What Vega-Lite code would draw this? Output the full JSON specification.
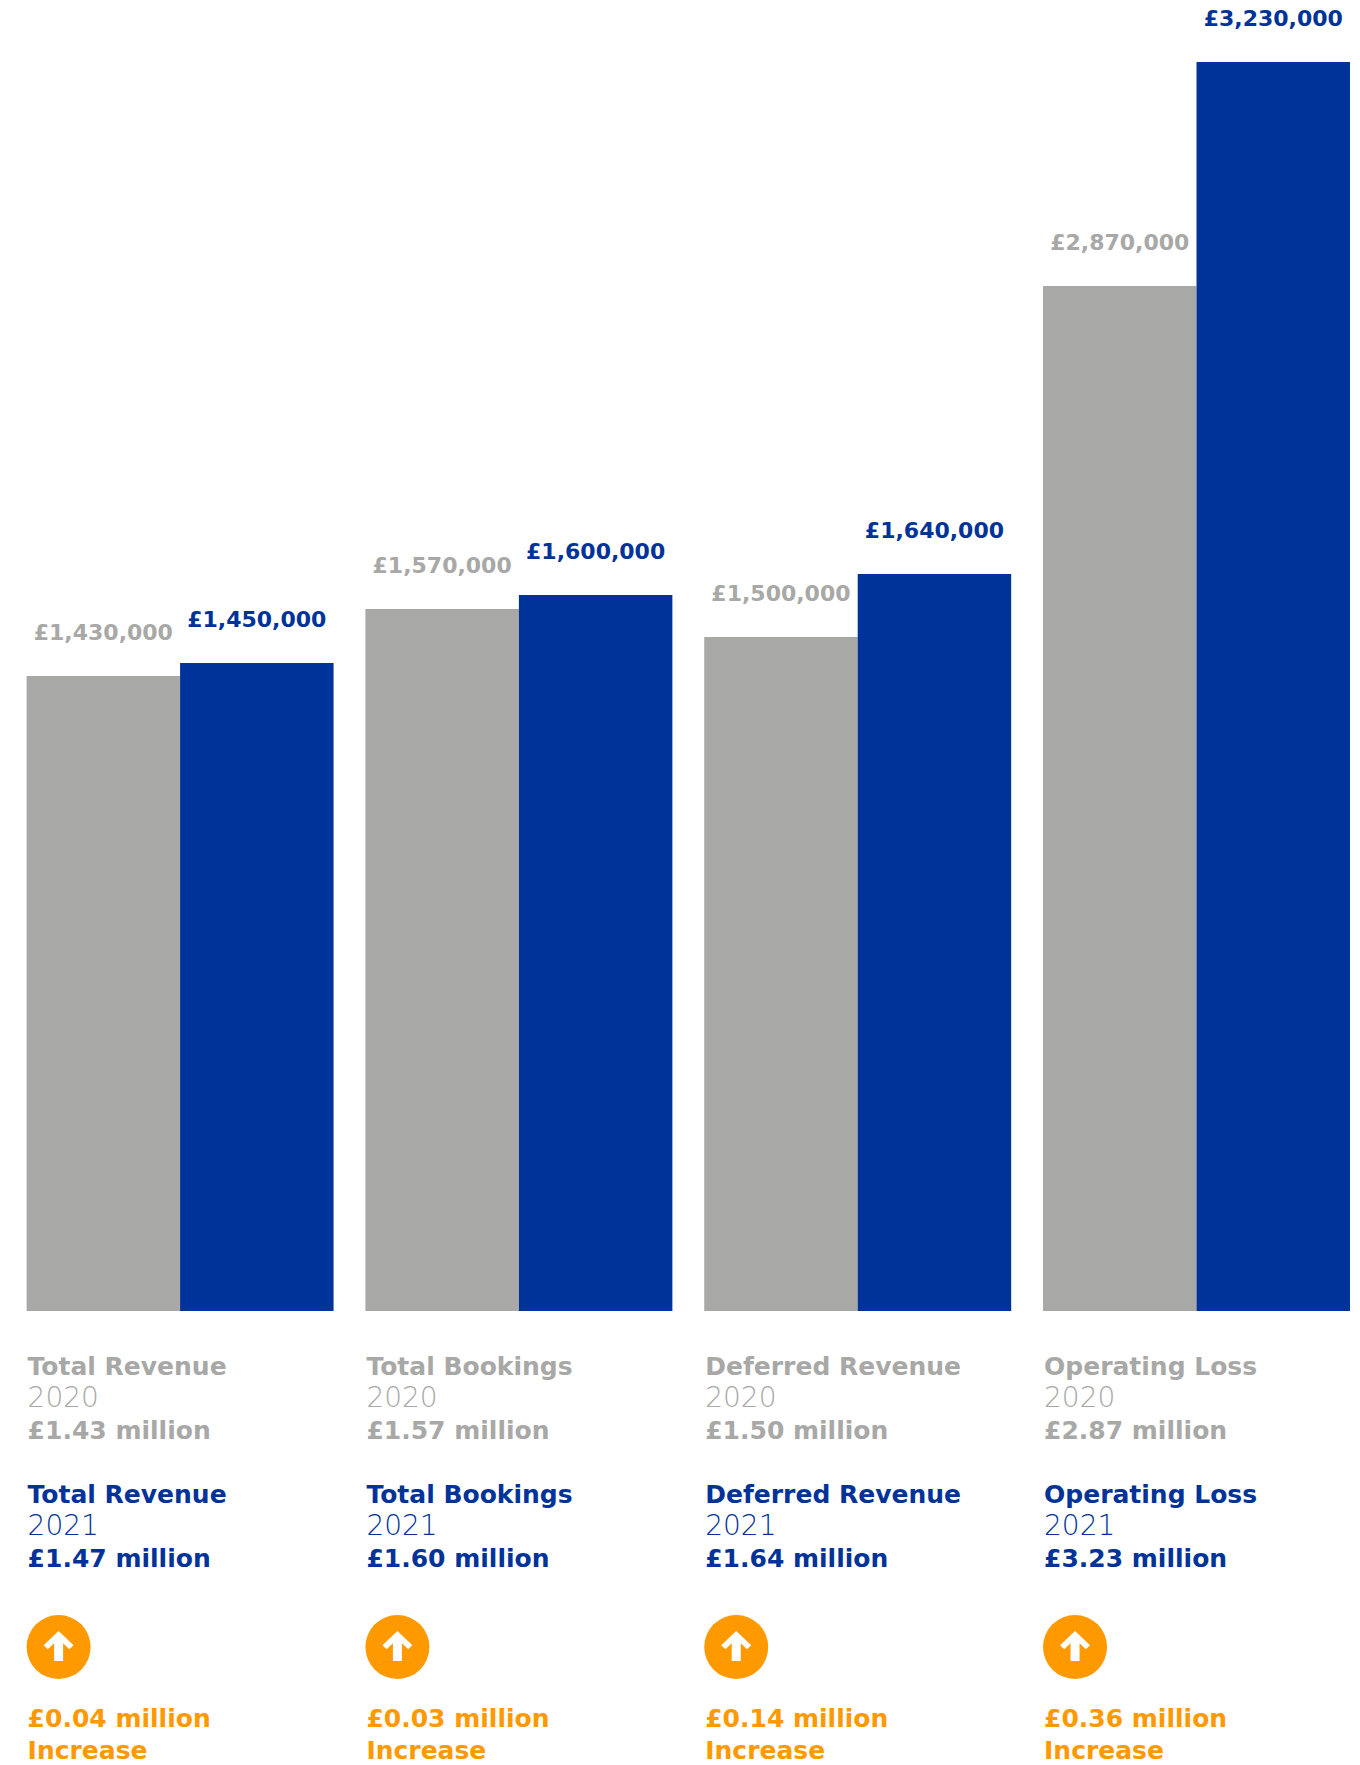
{
"$schema":"https://vega.github.io/schema/vega-lite/v6.json",
"width":1360,"height":1765,"padding":0,
"autosize":{"type":"fit","contains":"padding"},
"background":"#ffffff",
"config":{"view":{"stroke":null},"text":{"font":"DejaVu Sans"}},
"datasets":{
"bars":[
{"metric":"Total Revenue","year":"2020","label":"£1,430,000","barLength":635},
{"metric":"Total Revenue","year":"2021","label":"£1,450,000","barLength":648},
{"metric":"Total Bookings","year":"2020","label":"£1,570,000","barLength":702},
{"metric":"Total Bookings","year":"2021","label":"£1,600,000","barLength":716},
{"metric":"Deferred Revenue","year":"2020","label":"£1,500,000","barLength":674},
{"metric":"Deferred Revenue","year":"2021","label":"£1,640,000","barLength":737},
{"metric":"Operating Loss","year":"2020","label":"£2,870,000","barLength":1025},
{"metric":"Operating Loss","year":"2021","label":"£3,230,000","barLength":1249}],
"lines":[
{"metric":"Total Revenue","row":"name2020","series":"2020","kind":"bold","text":"Total Revenue"},
{"metric":"Total Revenue","row":"year2020","series":"2020","kind":"light","text":"2020"},
{"metric":"Total Revenue","row":"amount2020","series":"2020","kind":"bold","text":"£1.43 million"},
{"metric":"Total Revenue","row":"name2021","series":"2021","kind":"bold","text":"Total Revenue"},
{"metric":"Total Revenue","row":"year2021","series":"2021","kind":"light","text":"2021"},
{"metric":"Total Revenue","row":"amount2021","series":"2021","kind":"bold","text":"£1.47 million"},
{"metric":"Total Revenue","row":"change","series":"change","kind":"bold","text":"£0.04 million"},
{"metric":"Total Revenue","row":"direction","series":"change","kind":"bold","text":"Increase"},
{"metric":"Total Bookings","row":"name2020","series":"2020","kind":"bold","text":"Total Bookings"},
{"metric":"Total Bookings","row":"year2020","series":"2020","kind":"light","text":"2020"},
{"metric":"Total Bookings","row":"amount2020","series":"2020","kind":"bold","text":"£1.57 million"},
{"metric":"Total Bookings","row":"name2021","series":"2021","kind":"bold","text":"Total Bookings"},
{"metric":"Total Bookings","row":"year2021","series":"2021","kind":"light","text":"2021"},
{"metric":"Total Bookings","row":"amount2021","series":"2021","kind":"bold","text":"£1.60 million"},
{"metric":"Total Bookings","row":"change","series":"change","kind":"bold","text":"£0.03 million"},
{"metric":"Total Bookings","row":"direction","series":"change","kind":"bold","text":"Increase"},
{"metric":"Deferred Revenue","row":"name2020","series":"2020","kind":"bold","text":"Deferred Revenue"},
{"metric":"Deferred Revenue","row":"year2020","series":"2020","kind":"light","text":"2020"},
{"metric":"Deferred Revenue","row":"amount2020","series":"2020","kind":"bold","text":"£1.50 million"},
{"metric":"Deferred Revenue","row":"name2021","series":"2021","kind":"bold","text":"Deferred Revenue"},
{"metric":"Deferred Revenue","row":"year2021","series":"2021","kind":"light","text":"2021"},
{"metric":"Deferred Revenue","row":"amount2021","series":"2021","kind":"bold","text":"£1.64 million"},
{"metric":"Deferred Revenue","row":"change","series":"change","kind":"bold","text":"£0.14 million"},
{"metric":"Deferred Revenue","row":"direction","series":"change","kind":"bold","text":"Increase"},
{"metric":"Operating Loss","row":"name2020","series":"2020","kind":"bold","text":"Operating Loss"},
{"metric":"Operating Loss","row":"year2020","series":"2020","kind":"light","text":"2020"},
{"metric":"Operating Loss","row":"amount2020","series":"2020","kind":"bold","text":"£2.87 million"},
{"metric":"Operating Loss","row":"name2021","series":"2021","kind":"bold","text":"Operating Loss"},
{"metric":"Operating Loss","row":"year2021","series":"2021","kind":"light","text":"2021"},
{"metric":"Operating Loss","row":"amount2021","series":"2021","kind":"bold","text":"£3.23 million"},
{"metric":"Operating Loss","row":"change","series":"change","kind":"bold","text":"£0.36 million"},
{"metric":"Operating Loss","row":"direction","series":"change","kind":"bold","text":"Increase"},
{"metric":"Total Revenue","row":"icon","series":"change","kind":"icon","text":""},
{"metric":"Total Bookings","row":"icon","series":"change","kind":"icon","text":""},
{"metric":"Deferred Revenue","row":"icon","series":"change","kind":"icon","text":""},
{"metric":"Operating Loss","row":"icon","series":"change","kind":"icon","text":""}]
},
"encoding":{
"x":{"field":"metric","type":"nominal","axis":null,"sort":null,
"scale":{"domain":["Total Revenue","Total Bookings","Deferred Revenue","Operating Loss"],"range":[26.6,1350],"paddingInner":0.094,"paddingOuter":0}}
},
"layer":[
{"data":{"name":"bars"},
"layer":[
{"mark":{"type":"bar","stroke":null},
"encoding":{
"xOffset":{"field":"year","type":"nominal","scale":{"domain":["2020","2021"],"paddingInner":0,"paddingOuter":0}},
"y":{"field":"barLength","type":"quantitative","axis":null,"stack":null,"scale":{"domain":[0,1311],"range":[1311,0],"nice":false,"zero":true}},
"color":{"field":"year","type":"nominal","legend":null,"scale":{"domain":["2020","2021"],"range":["#A8A8A7","#003399"]}}}},
{"mark":{"type":"text","baseline":"middle","align":"center","dy":-43,"fontWeight":"bold","fontSize":22,"font":"DejaVu Sans"},
"encoding":{
"xOffset":{"field":"year","type":"nominal","scale":{"domain":["2020","2021"],"paddingInner":0,"paddingOuter":0}},
"y":{"field":"barLength","type":"quantitative","axis":null,"stack":null,"scale":{"domain":[0,1311],"range":[1311,0],"nice":false,"zero":true}},
"text":{"field":"label","type":"nominal"},
"color":{"field":"year","type":"nominal","legend":null,"scale":{"domain":["2020","2021"],"range":["#A8A8A7","#003399"]}}}}
]},
{"data":{"name":"lines"},
"encoding":{
"x":{"field":"metric","type":"nominal","bandPosition":0,"axis":null,"sort":null},
"y":{"field":"row","type":"ordinal","axis":null,"sort":null,
"scale":{"type":"point","padding":0,"domain":["name2020","year2020","amount2020","gap1","name2021","year2021","amount2021","gap2","gap3","icon","gap4","change","direction"],"range":[1367,1751]}}
},
"layer":[
{"transform":[{"filter":"datum.kind==='bold'"}],
"mark":{"type":"text","align":"left","baseline":"middle","dx":1,"fontWeight":"bold","fontSize":25,"font":"DejaVu Sans"},
"encoding":{"text":{"field":"text","type":"nominal"},
"color":{"field":"series","type":"nominal","legend":null,"scale":{"domain":["2020","2021","change"],"range":["#A8A8A7","#003399","#FF9900"]}}}},
{"transform":[{"filter":"datum.kind==='light'"}],
"mark":{"type":"text","align":"left","baseline":"middle","dx":1,"fontWeight":200,"fontSize":28,"font":"DejaVu Sans"},
"encoding":{"text":{"field":"text","type":"nominal"},
"color":{"field":"series","type":"nominal","legend":null,"scale":{"domain":["2020","2021","change"],"range":["#A8A8A7","#003399","#FF9900"]}}}},
{"transform":[{"filter":"datum.kind==='icon'"}],
"mark":{"type":"point","shape":"circle","filled":true,"opacity":1,"size":4096,"xOffset":32,"yOffset":-8,"color":"#FF9900"}},
{"transform":[{"filter":"datum.kind==='icon'"}],
"mark":{"type":"point","filled":true,"opacity":1,"size":900,"xOffset":32,"yOffset":-9,"color":"#ffffff",
"shape":"M0,-1L1,-0.05L0.72,0.22L0.3,-0.18L0.3,1L-0.3,1L-0.3,-0.18L-0.72,0.22L-1,-0.05Z"}}
]}
],
"resolve":{"scale":{"y":"independent","color":"independent"}}
}
